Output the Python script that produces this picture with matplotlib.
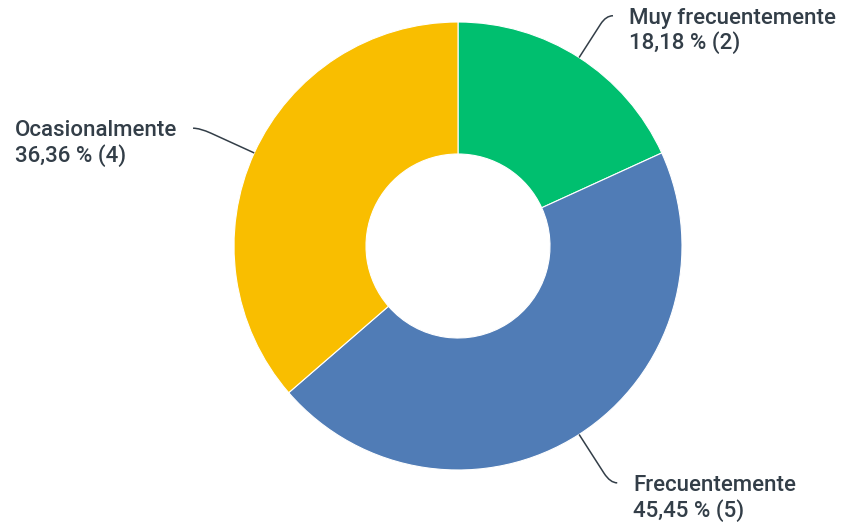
import numpy as np
import matplotlib.pyplot as plt
from matplotlib.path import Path
from matplotlib.patches import PathPatch

# respuestas por categoría
categorias = ["Muy frecuentemente", "Frecuentemente", "Ocasionalmente"]
conteos = [2, 5, 4]
porcentajes = ["18,18 %", "45,45 %", "36,36 %"]
colores = ["#00BF6F", "#507CB6", "#F9BE00"]
# largo de cada línea guía (en radios)
largo_guia = [1.222, 1.257, 1.266]

plt.rcParams['font.family'] = ['Roboto', 'DejaVu Sans']

W, H = 848, 523
fig = plt.figure(figsize=(W / 100, H / 100), dpi=100)
cx, cy, R = 458, H - 246, 224
ax = fig.add_axes([(cx - R) / W, (cy - R) / H, 2 * R / W, 2 * R / H])

wedges, _ = ax.pie(conteos, colors=colores, startangle=90, counterclock=False,
                   radius=1, wedgeprops=dict(width=1 - 92 / 224, linewidth=0.8, edgecolor='white'))
ax.set_xlim(-1, 1)
ax.set_ylim(-1, 1)
ax.set_aspect('equal')
ax.axis('off')

px = 1 / R  # un píxel en unidades de datos
for w, cat, pct, n, lg in zip(wedges, categorias, porcentajes, conteos, largo_guia):
    ang = np.deg2rad((w.theta1 + w.theta2) / 2)
    c, s = np.cos(ang), np.sin(ang)
    p0 = np.array([c, s])
    p1 = p0 * lg
    q = p0 + (p1 - p0) * 0.8
    sgn = 1 if c >= 0 else -1
    p2 = p1 + np.array([sgn * 7 * px, 0])
    path = Path([p0, q, p1, p2], [Path.MOVETO, Path.LINETO, Path.CURVE3, Path.CURVE3])
    ax.add_patch(PathPatch(path, fill=False, edgecolor='#333E48', linewidth=1.1, clip_on=False))
    tx = p2[0] + sgn * 16 * px
    ax.text(tx, p2[1] + 8 * px, f"{cat}\n{pct} ({n})", ha='left' if sgn > 0 else 'right',
            va='top', multialignment='left', fontsize=16, fontweight='medium', color='#333E48',
            linespacing=1.16, clip_on=False)

fig.savefig("out.png", dpi=100)
